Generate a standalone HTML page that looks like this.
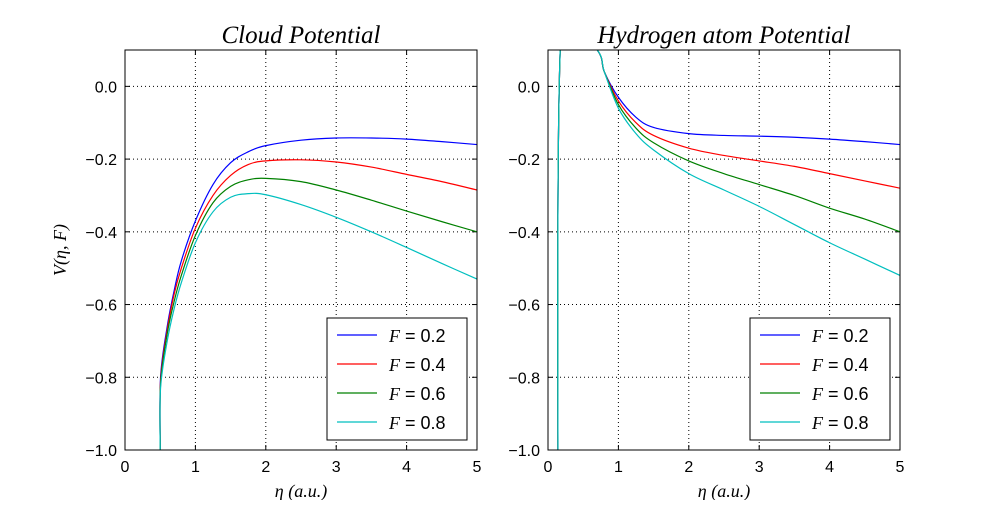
<!DOCTYPE html>
<html><head><meta charset="utf-8"><style>
body{margin:0;background:#fff;width:1000px;height:500px;overflow:hidden}
svg text{font-family:"Liberation Sans",sans-serif}
.t{font-family:"Liberation Serif",serif;font-style:italic}
</style></head><body>
<svg id="c" width="1000" height="500"></svg>
<script>
const series=['F=0.2','F=0.4','F=0.6','F=0.8'];
const colors=['#0000ff','#ff0000','#008000','#00bfbf'];
const xTicks=[0,1,2,3,4,5];
const yTicks=[0.0,-0.2,-0.4,-0.6,-0.8,-1.0];
const etaL=[0.5,0.505,0.6,0.7,0.8,1.0,1.25,1.5,1.75,2.0,2.5,3.0,3.5,4.0,4.5,5.0];
const cloud02=[-1.0,-0.80,-0.66,-0.56,-0.48,-0.37,-0.27,-0.21,-0.18,-0.163,-0.148,-0.142,-0.142,-0.145,-0.152,-0.16];
const cloud04=[-1.0,-0.81,-0.67,-0.57,-0.50,-0.39,-0.30,-0.245,-0.215,-0.205,-0.202,-0.208,-0.222,-0.242,-0.262,-0.285];
const cloud06=[-1.0,-0.82,-0.68,-0.59,-0.52,-0.41,-0.32,-0.275,-0.257,-0.253,-0.262,-0.285,-0.313,-0.343,-0.372,-0.40];
const cloud08=[-1.0,-0.83,-0.70,-0.61,-0.54,-0.43,-0.345,-0.305,-0.295,-0.298,-0.325,-0.36,-0.40,-0.443,-0.487,-0.53];
const etaR=[0.14,0.2,0.7,0.8,1.0,1.25,1.5,2.0,2.5,3.0,3.5,4.0,4.5,5.0];
const hyd02=[-1.2,0.2,0.1,0.04,-0.03,-0.085,-0.113,-0.13,-0.135,-0.137,-0.14,-0.145,-0.152,-0.16];
const hyd04=[-1.2,0.2,0.1,0.04,-0.04,-0.10,-0.135,-0.17,-0.19,-0.205,-0.22,-0.24,-0.26,-0.28];
const hyd06=[-1.2,0.2,0.1,0.04,-0.05,-0.115,-0.155,-0.205,-0.24,-0.27,-0.30,-0.335,-0.365,-0.40];
const hyd08=[-1.2,0.2,0.1,0.04,-0.06,-0.13,-0.175,-0.24,-0.285,-0.33,-0.38,-0.43,-0.475,-0.52];
const NS='http://www.w3.org/2000/svg';
const svg=document.getElementById('c');
function mk(t,a,p){const e=document.createElementNS(NS,t);for(const k in a)e.setAttribute(k,a[k]);(p||svg).appendChild(e);return e;}
function smooth(P){let d='M'+P[0][0]+','+P[0][1];
  for(let i=0;i<P.length-1;i++){const p0=P[Math.max(i-1,0)],p1=P[i],p2=P[i+1],p3=P[Math.min(i+2,P.length-1)];
    const c1=[p1[0]+(p2[0]-p0[0])/6,p1[1]+(p2[1]-p0[1])/6],c2=[p2[0]-(p3[0]-p1[0])/6,p2[1]-(p3[1]-p1[1])/6];
    d+=' C'+c1+' '+c2+' '+p2;}
  return d;}
function panel(x0,title,xs,ys,id){
  const W=352,top=50,H=400;
  const sx=v=>x0+v/5*W, sy=v=>top+(0.1-v)/1.1*H;
  const g=mk('g',{});
  
  
  mk('clipPath',{id:'cl'+id},g);
  mk('rect',{x:x0,y:top,width:W,height:H},g.lastChild);
  xTicks.forEach(t=>{const X=sx(t);
    if(t>0&&t<5){const l=mk('line',{x1:X,x2:X,y1:top,y2:top+H,stroke:'#000','stroke-dasharray':'1,3','stroke-width':1},g);}
    mk('line',{x1:X,x2:X,y1:top+H,y2:top+H-5,stroke:'#000'},g);mk('line',{x1:X,x2:X,y1:top,y2:top+5,stroke:'#000'},g);
    const tx=mk('text',{x:X,y:top+H+22,'text-anchor':'middle','font-size':16},g);tx.textContent=t;
    });
  yTicks.forEach(t=>{const Y=sy(t);
    if(t>-1){const l=mk('line',{x1:x0,x2:x0+W,y1:Y,y2:Y,stroke:'#000','stroke-dasharray':'1,3'},g);}
    mk('line',{x1:x0,x2:x0+5,y1:Y,y2:Y,stroke:'#000'},g);mk('line',{x1:x0+W,x2:x0+W-5,y1:Y,y2:Y,stroke:'#000'},g);
    const tx=mk('text',{x:x0-8,y:Y+6,'text-anchor':'end','font-size':16},g);tx.textContent=(t<0?'\u2212':'')+Math.abs(t).toFixed(1);
    });
  ys.forEach((arr,i)=>{const p=mk('path',{d:smooth(arr.map((v,j)=>[sx(xs[j]),sy(v)])),fill:'none',stroke:colors[i],'stroke-width':1.2,'clip-path':'url(#cl'+id+')'},g);
     });
  mk('rect',{x:x0,y:top,width:W,height:H,fill:'none',stroke:'#000','stroke-width':1},g);
  const tt=mk('text',{x:x0+W/2,y:43,'text-anchor':'middle','font-size':25,class:'t'},g);tt.textContent=title;
  
  const xl=mk('text',{x:x0+W/2,y:497,'text-anchor':'middle','font-size':18,class:'t'},g);xl.textContent='\u03b7 (a.u.)';
  
  const lg=mk('g',{},g);
  const lx=x0+W-150,ly=318;
  mk('rect',{x:lx,y:ly,width:140,height:122,fill:'#fff',stroke:'#000'},lg);
  series.forEach((s,i)=>{const Y=ly+17+i*29;
    mk('line',{x1:lx+10,x2:lx+50,y1:Y,y2:Y,stroke:colors[i],'stroke-width':1.2},lg);
    const e=mk('text',{x:lx+62,y:Y+7,'font-size':18},lg);
    const a=mk('tspan',{class:'t','font-family':'Liberation Serif'},e);a.textContent='F';
    const b=mk('tspan',{},e);b.textContent=' = '+s.split('=')[1];
    });
}
panel(125,'Cloud Potential',etaL,[cloud02,cloud04,cloud06,cloud08],'cloud');
panel(548,'Hydrogen atom Potential',etaR,[hyd02,hyd04,hyd06,hyd08],'hydrogen');
const yl=mk('text',{x:0,y:0,'text-anchor':'middle','font-size':18,class:'t',transform:'translate(66,250) rotate(-90)'});
yl.textContent='V(\u03b7, F)';


</script>
</body></html>
